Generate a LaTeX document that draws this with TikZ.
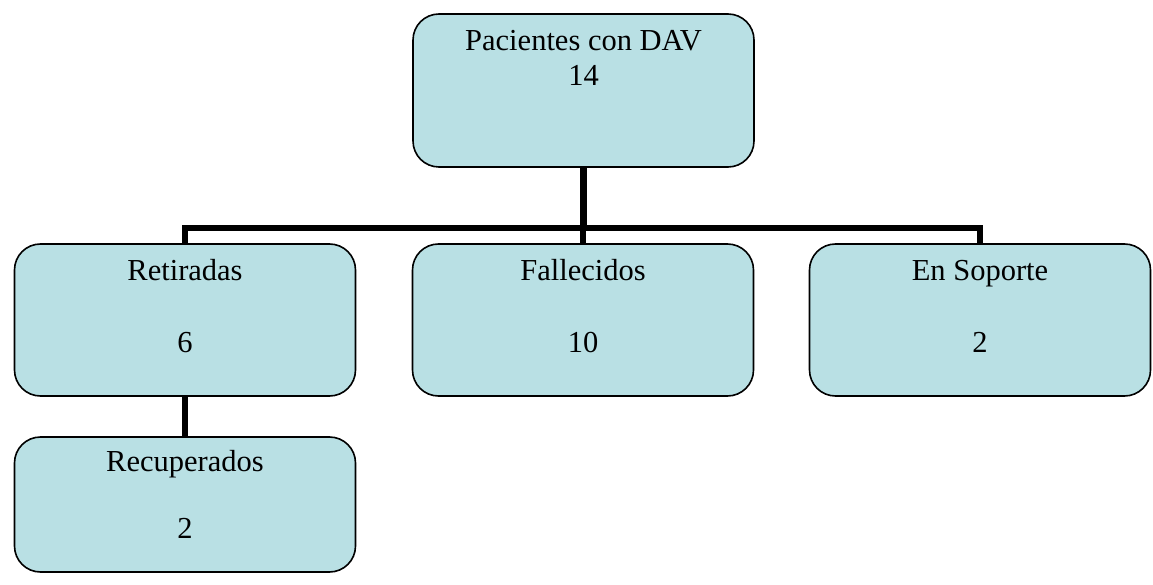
\documentclass[tikz,border=0pt]{standalone}
\usepackage{fontspec}
\setmainfont{Liberation Serif}
\definecolor{boxfill}{RGB}{185,224,228}
\tikzset{
  box/.style={draw=black, line width=1.6pt, fill=boxfill, rounded corners=26pt, minimum width=341pt, inner sep=0pt},
  txt/.style={inner sep=0pt, anchor=base, font=\fontsize{30.5}{36}\selectfont},
  conn/.style={draw=black, line width=6.5pt, line join=miter, line cap=butt}
}
\begin{document}
\begin{tikzpicture}[x=1pt,y=-1pt]
\useasboundingbox (0,0) rectangle (1153,585);
% boxes
\node[box, minimum height=153pt] (top) at (583.5,90.5) {};
\node[box, minimum height=152pt] (ret) at (185,320) {};
\node[box, minimum height=152pt] (fal) at (583,320) {};
\node[box, minimum height=152pt] (sop) at (980,320) {};
\node[box, minimum height=135pt] (rec) at (185,504.5) {};
% texts
\node[txt] (t1) at (583.5,51) {Pacientes con DAV};
\node[txt] (t2) at (583.5,86) {14};
\node[txt] (r1) at (185,280) {Retiradas};
\node[txt] (r2) at (185,352) {6};
\node[txt] (f1) at (583,280) {Fallecidos};
\node[txt] (f2) at (583,352) {10};
\node[txt] (s1) at (980,280) {En Soporte};
\node[txt] (s2) at (980,352) {2};
\node[txt] (c1) at (185,471) {Recuperados};
\node[txt] (c2) at (185,538) {2};
% connectors
\coordinate (bus) at (583,228);
\draw[conn] (top.south) -- (top.south |- bus);
\draw[conn] (ret.north) -- (ret.north |- bus) -- (sop.north |- bus) -- (sop.north);
\draw[conn] (fal.north |- bus) -- (fal.north);
\draw[conn] (ret.south) -- (rec.north);
\end{tikzpicture}
\end{document}
